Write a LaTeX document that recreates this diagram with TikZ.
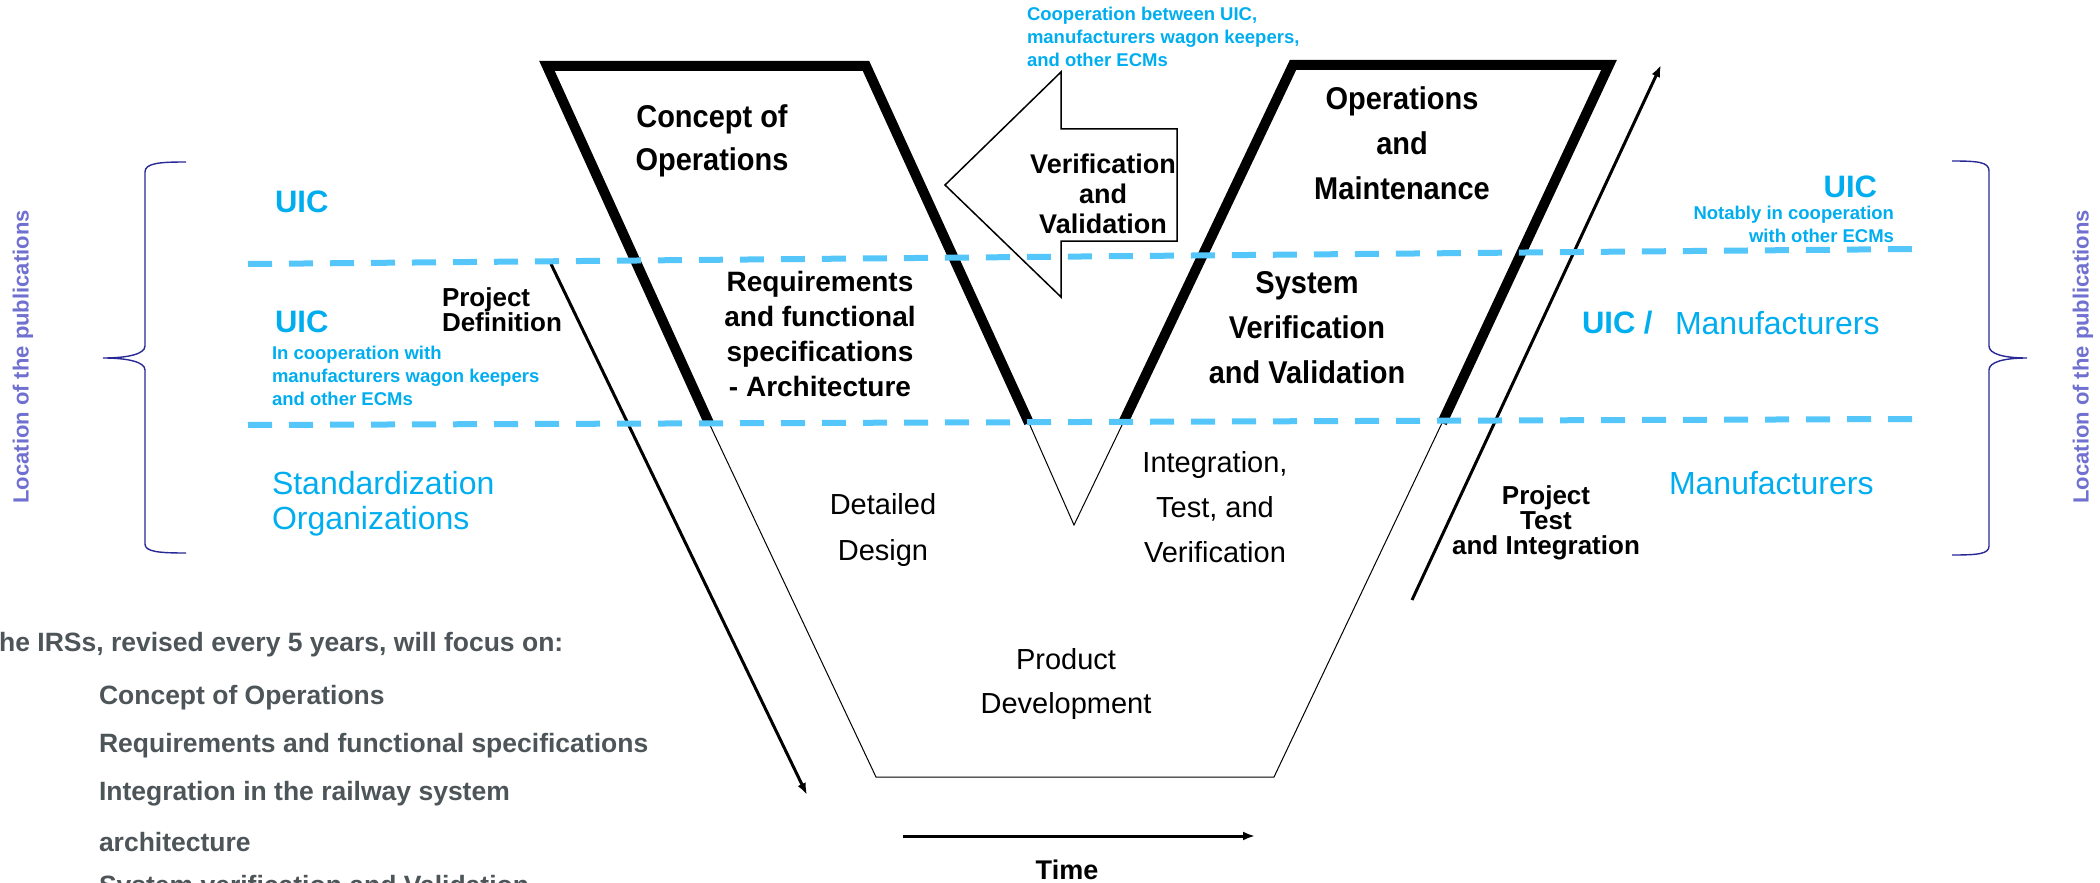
\documentclass[tikz,border=0pt]{standalone}
\usepackage{fontspec}
\setmainfont{Liberation Sans}
\newfontfamily\condfont[FakeStretch=0.92]{Liberation Sans}
\usetikzlibrary{arrows.meta}
\definecolor{uicblue}{RGB}{0,174,239}
\definecolor{dashblue}{RGB}{84,198,250}
\definecolor{locpurple}{RGB}{112,112,208}
\definecolor{bracecol}{RGB}{40,40,150}
\definecolor{graytxt}{RGB}{77,85,89}
\begin{document}
\begin{tikzpicture}[x=0.5pt,y=-0.5pt,
  every node/.style={inner sep=0pt, outer sep=0pt},
  bigb/.style={font=\condfont\fontsize{15.75}{22.5}\selectfont\bfseries, align=center},
  midb/.style={font=\fontsize{13.5}{17.5}\selectfont\bfseries, align=center},
  regtxt/.style={font=\fontsize{14.5}{22.5}\selectfont, align=center},
  projlab/.style={font=\fontsize{13}{12.5}\selectfont\bfseries},
  uicbig/.style={font=\fontsize{15.5}{18}\selectfont\bfseries, text=uicblue},
  uicreg/.style={font=\fontsize{16}{17.5}\selectfont, text=uicblue, align=left},
  uicsmall/.style={font=\fontsize{9.25}{11.5}\selectfont\bfseries, text=uicblue},
  locstyle/.style={font=\fontsize{11}{12}\selectfont\bfseries, text=locpurple, rotate=90},
  graystyle/.style={font=\fontsize{13.25}{16}\selectfont\bfseries, text=graytxt, anchor=west},
  thickline/.style={line width=5pt, line join=miter, line cap=butt},
  thinline/.style={line width=0.5pt},
  arr/.style={line width=1.5pt, -{Latex[length=6pt,width=4.5pt]}},
  dashline/.style={line width=3pt, dashblue, dash pattern=on 12pt off 8.5pt},
  bracestyle/.style={line width=0.7pt, bracecol},
  vvarrow/.style={line width=0.75pt, line join=miter}
]
\useasboundingbox (0,0) rectangle (2100,883);

% ---- coordinates of the V shape
\coordinate (L1) at (709,423);
\coordinate (L2) at (547,66);
\coordinate (L3) at (866,66);
\coordinate (L4) at (1029,423);
\coordinate (R1) at (1123,423);
\coordinate (R2) at (1293,65);
\coordinate (R3) at (1609,65);
\coordinate (R4) at (1442,423);
\coordinate (B1) at (876,777);
\coordinate (B2) at (1274,777);
\coordinate (M) at (1074,525);

\draw[thinline] (L1) -- (B1) -- (B2) -- (R4);
\draw[thinline] (L4) -- (M) -- (R1);
\draw[thickline] (L1) -- (L2) -- (L3) -- (L4);
\draw[thickline] (R1) -- (R2) -- (R3) -- (R4);

% ---- big hollow arrow
\coordinate (va1) at (945,185);
\coordinate (va2) at (1061,72);
\coordinate (va3) at (1061,129);
\coordinate (va4) at (1177,129);
\coordinate (va5) at (1177,241);
\coordinate (va6) at (1061,241);
\coordinate (va7) at (1061,297);
\draw[vvarrow] (va1) -- (va2) -- (va3) -- (va4) -- (va5) -- (va6) -- (va7) -- cycle;

% ---- arrows
\coordinate (pd1) at (551,264);
\coordinate (pd2) at (807,795);
\draw[arr] (pd1) -- (pd2);
\coordinate (pt1) at (1412,600);
\coordinate (pt2) at (1661,65);
\draw[arr] (pt1) -- (pt2);
\coordinate (t1) at (903,836);
\coordinate (t2) at (1255,836);
\draw[arr] (t1) -- (t2);

% ---- dashed lines
\coordinate (d1a) at (248,264);
\coordinate (d1b) at (1914,249);
\coordinate (d2a) at (248,425);
\coordinate (d2b) at (1914,419);
\draw[dashline] (d1a) -- (d1b);
\draw[dashline] (d2a) -- (d2b);

% ---- braces
\draw[bracestyle] (186,162) .. controls (160,162) and (145,163) .. (145,172)
  -- (145,346) .. controls (145,354) and (128,358) .. (103,358)
  .. controls (128,358) and (145,362) .. (145,370)
  -- (145,544) .. controls (145,552) and (160,553) .. (186,553);
\draw[bracestyle] (1952,161) .. controls (1978,161) and (1989,162) .. (1989,171)
  -- (1989,346) .. controls (1989,354) and (2004,358) .. (2027,358)
  .. controls (2004,358) and (1989,362) .. (1989,370)
  -- (1989,546) .. controls (1989,554) and (1978,555) .. (1952,555);

\node[locstyle] (locL) at (23,357) {Location of the publications};
\node[locstyle] (locR) at (2083,357) {Location of the publications};

% ---- left column texts
\node[uicbig, anchor=west] (uic1) at (275,202) {UIC};
\node[uicbig, anchor=west] (uic2) at (275,322) {UIC};
\node[uicsmall, anchor=west, align=left] (coop1) at (272,376) {In cooperation with\\manufacturers wagon keepers\\and other ECMs};
\node[uicreg, anchor=west] (std) at (272,504) {Standardization\\Organizations};
\node[projlab, anchor=west, align=left] (pdef) at (442,310) {Project\\Definition};

% ---- V texts
\node[bigb] (conops) at (712,141) {Concept of\\[-1pt]Operations};
\node[midb, font=\fontsize{14}{17.5}\selectfont\bfseries] (req) at (820,334) {Requirements\\and functional\\specifications\\- Architecture};
\node[midb, font=\fontsize{13.5}{15}\selectfont\bfseries] (vv) at (1103,194) {Verification\\and\\Validation};
\node[uicsmall, anchor=west, align=left] (coop2) at (1027,37) {Cooperation between UIC,\\manufacturers wagon keepers,\\and other ECMs};
\node[bigb] (opm) at (1402,143) {Operations\\and\\Maintenance};
\node[bigb] (svv) at (1307,328) {System\\Verification\\and Validation};
\node[regtxt, font=\fontsize{14.5}{23}\selectfont] (dd) at (883,530) {Detailed\\Design};
\node[regtxt] (itv) at (1215,507) {Integration,\\Test, and\\Verification};
\node[regtxt, font=\fontsize{14.5}{22}\selectfont] (pdev) at (1066,684) {Product\\Development};
\node[projlab, align=center] (ptest) at (1546,523) {Project\\Test\\and Integration};
\node[midb] (time) at (1067,870) {Time};

% ---- right column texts
\node[uicbig, anchor=east] (uic3) at (1877,187) {UIC};
\node[uicsmall, anchor=east, align=right] (notably) at (1894,224) {Notably in cooperation\\with other ECMs};
\node[uicbig, anchor=west] (uic4) at (1582,323) {UIC /};
\node[uicreg, anchor=west] (man1) at (1675,323) {Manufacturers};
\node[uicreg, anchor=west] (man2) at (1669,483) {Manufacturers};

% ---- bottom-left list
\node[graystyle] (irs) at (-17,645) {The IRSs, revised every 5 years, will focus on:};
\node[graystyle] (g1) at (99,698) {Concept of Operations};
\node[graystyle] (g2) at (99,746) {Requirements and functional specifications};
\node[graystyle] (g3) at (99,794) {Integration in the railway system};
\node[graystyle] (g4) at (99,842) {architecture};
\node[graystyle] (g5) at (99,888) {System verification and Validation};
\end{tikzpicture}
\end{document}
